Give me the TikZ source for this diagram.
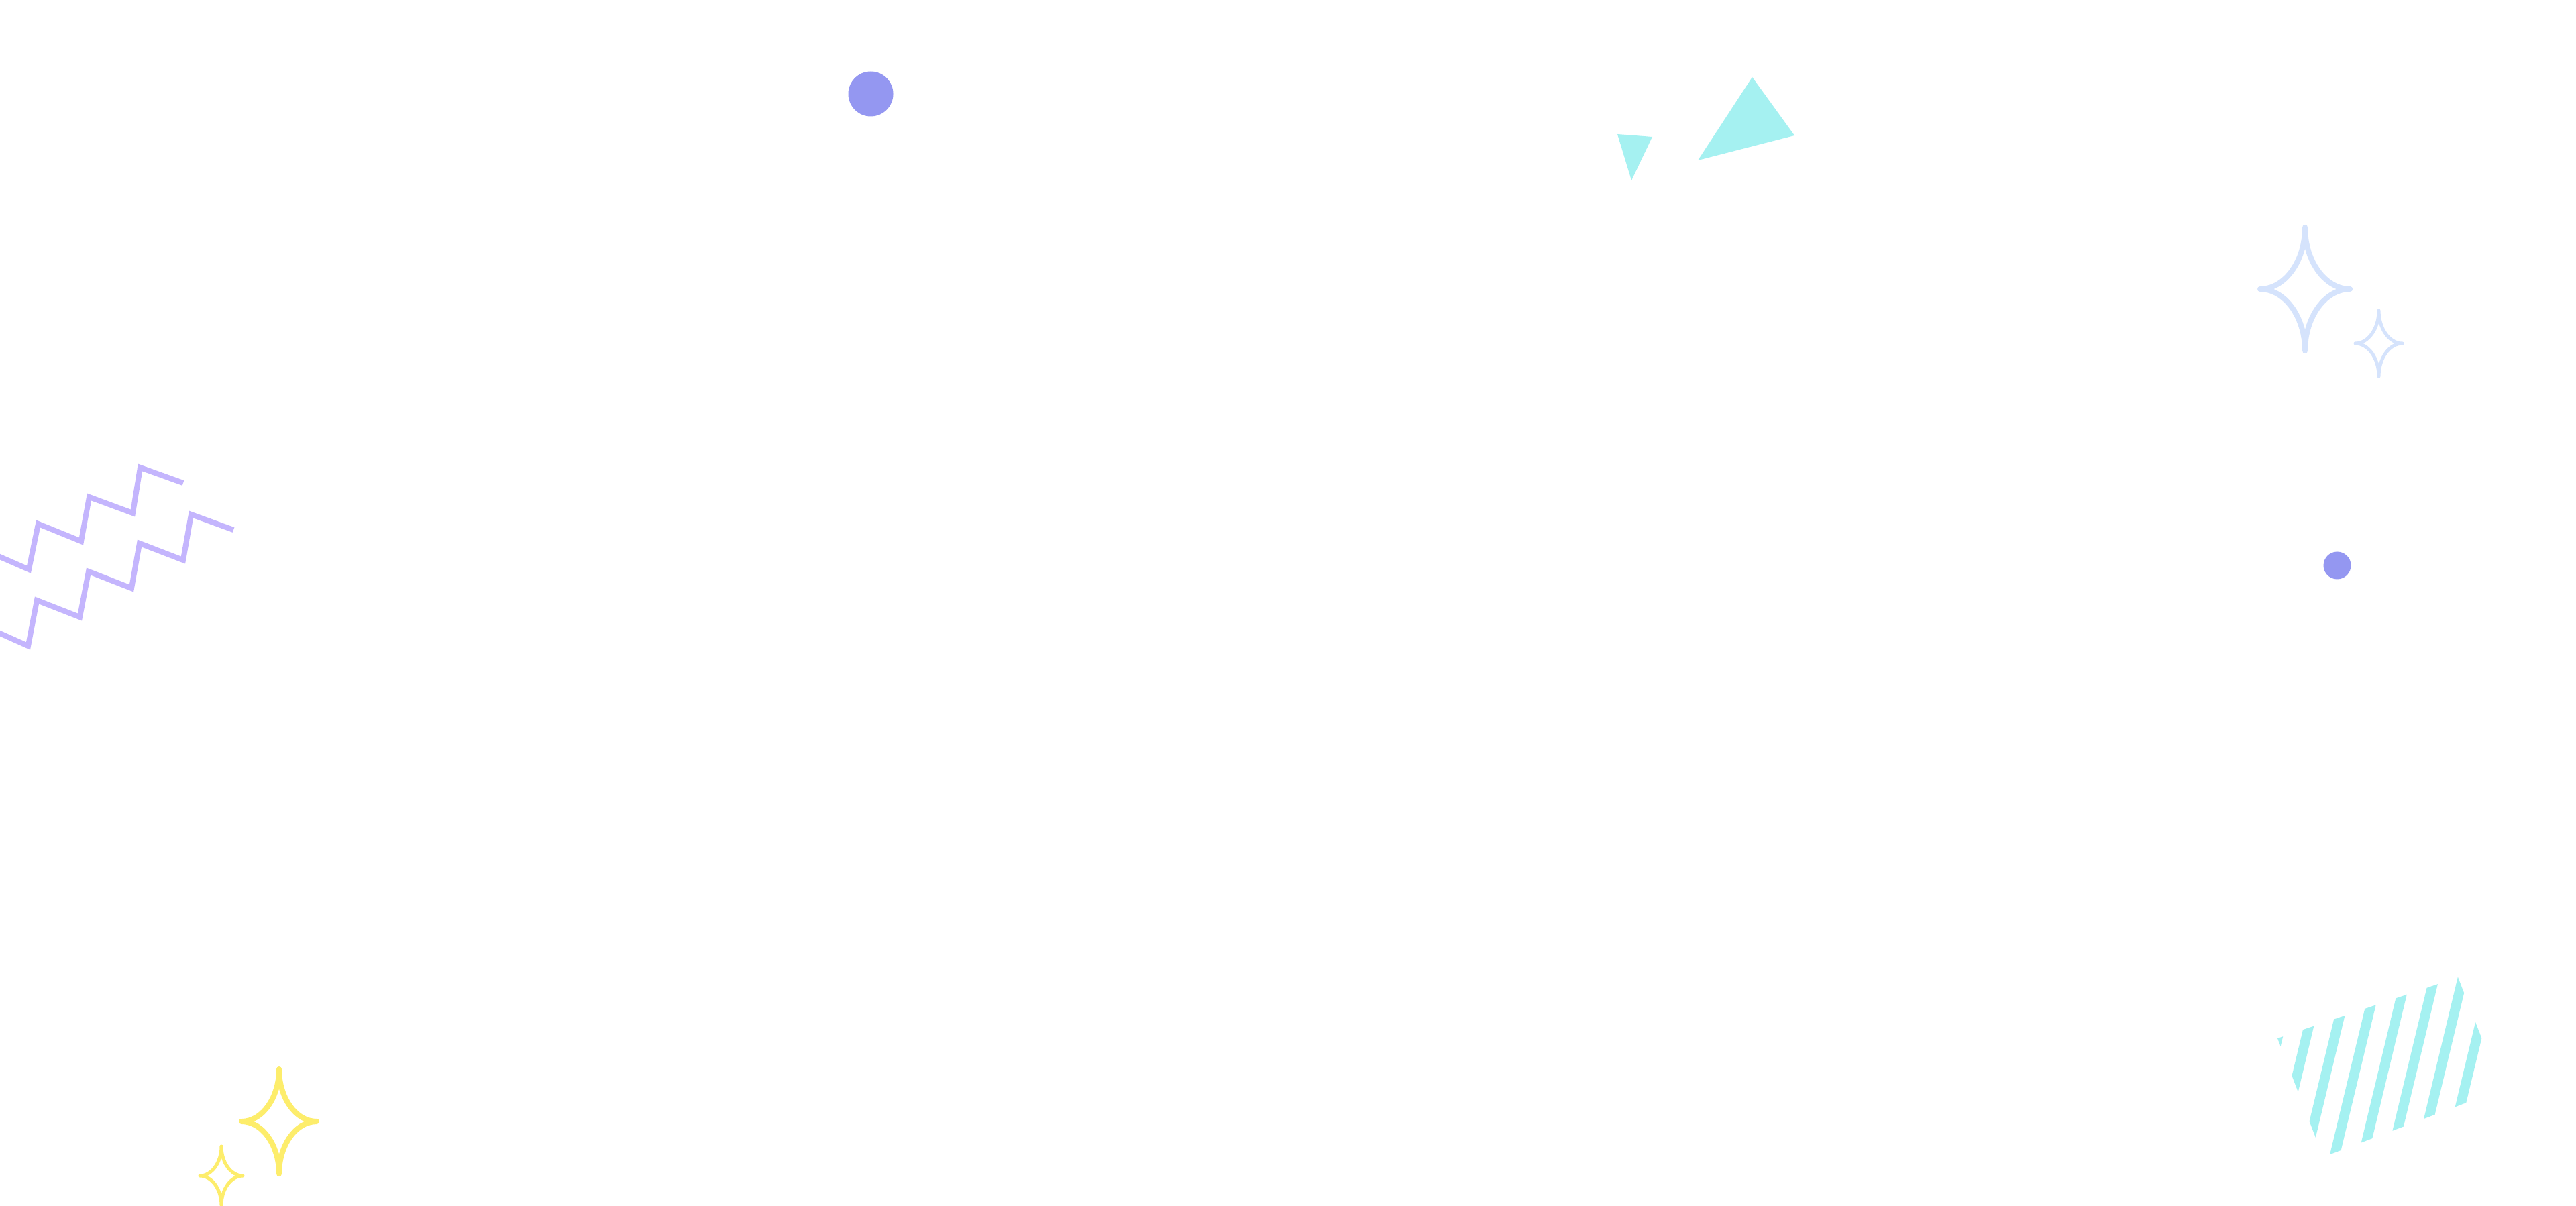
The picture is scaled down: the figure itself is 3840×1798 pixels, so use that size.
\documentclass[tikz,border=0pt]{standalone}
\usepackage{tikz}
\definecolor{dotblue}{HTML}{9497F1}
\definecolor{aqua}{HTML}{A5F1F1}
\definecolor{lavender}{HTML}{C4B5FD}
\definecolor{iceblue}{HTML}{D5E3FC}
\definecolor{lemon}{HTML}{FDED6B}
\tikzset{
x=0.01cm, y=-0.01cm,
zigzag/.style={draw=lavender,line width=0.08cm},
stripe/.style={draw=aqua,line width=0.146cm},
pics/sparkle/.style n args={3}{code={
  \draw[line width=#3,line join=round,line cap=round]
    (0,-#2) .. controls (0,{-0.45*#2}) and ({0.45*#1},0) .. (#1,0)
            .. controls ({0.45*#1},0) and (0,{0.45*#2}) .. (0,#2)
            .. controls (0,{0.45*#2}) and ({-0.45*#1},0) .. (-#1,0)
            .. controls ({-0.45*#1},0) and (0,{-0.45*#2}) .. (0,-#2) -- cycle;
}}
}

\begin{document}
\begin{tikzpicture}
\useasboundingbox[fill=white] (0,0) rectangle (3840,1798);

% dots
\fill[dotblue] (1298,140) circle[radius=33.5];
\fill[dotblue] (3484,843) circle[radius=20.5];

% triangles
\fill[aqua] (2411,200) -- (2463,204) -- (2432,269) -- cycle;
\fill[aqua] (2612,115) -- (2675,202) -- (2531,239) -- cycle;

% sparkles
\pic[draw=iceblue] at (3436,431) {sparkle={67}{92}{0.08cm}};
\pic[draw=iceblue] at (3546,512) {sparkle={35}{49}{0.05cm}};
\pic[draw=lemon]   at (416,1672) {sparkle={56}{78}{0.08cm}};
\pic[draw=lemon]   at (330,1753) {sparkle={32}{44}{0.05cm}};

% zigzags
\draw[zigzag] (-5,828) -- (43,849) -- (57,781) -- (121,807) -- (133,741)
  -- (198,765) -- (209,697) -- (273,720);
\draw[zigzag] (-5,942) -- (42,963) -- (55,895) -- (119,920) -- (132,852)
  -- (196,877) -- (208,810) -- (273,835) -- (285,767) -- (348,790);

% hatched patch
\begin{scope}
  \clip (3395,1548) -- (3664,1457) -- (3729,1624) -- (3463,1725) -- cycle;
  \foreach \k in {0,...,7}
    \draw[stripe] ({3380.8+42.4*\k+48},1407) -- ({3380.8+42.4*\k-48},1807);
\end{scope}
\end{tikzpicture}
\end{document}
